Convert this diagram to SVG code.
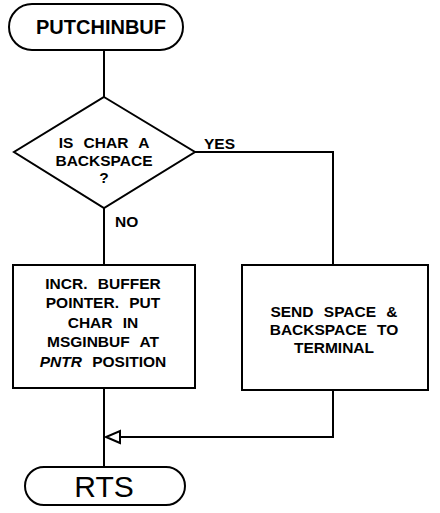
<svg xmlns="http://www.w3.org/2000/svg" width="440" height="513" viewBox="0 0 440 513">
<style>
.s{fill:#fff;stroke:#000;stroke-width:2}
.c{fill:none;stroke:#000;stroke-width:2}
.t{font-family:"Liberation Sans",Arial,sans-serif;font-weight:bold;font-size:15.5px;fill:#000;text-anchor:middle;word-spacing:6px}
</style>
<defs>
<marker id="ah" markerUnits="userSpaceOnUse" markerWidth="20" markerHeight="20" refX="16" refY="8" orient="auto">
<path d="M2,2 L16,8 L2,14 Z" fill="#fff" stroke="#000" stroke-width="2"/>
</marker>
</defs>
<rect width="440" height="513" fill="#fff"/>
<g id="connectors">
<path class="c" d="M104,50 V97"/>
<path class="c" d="M104,208 V265"/>
<path class="c" d="M195,152 H333 V265"/>
<path class="c" d="M104,388 V467"/>
<path class="c" d="M333,390 V437 H106" marker-end="url(#ah)"/>
<text class="t" x="204" y="149" style="text-anchor:start">YES</text>
<text class="t" x="115" y="227" style="text-anchor:start">NO</text>
</g>
<g id="start">
<rect class="s" x="9" y="4" width="174" height="46" rx="23"/>
<text class="t" x="101" y="34" style="font-size:20px">PUTCHINBUF</text>
</g>
<g id="decision">
<polygon class="s" points="104,97 195,152 104,208 14,152"/>
<text class="t" x="104" y="148">IS CHAR A</text>
<text class="t" x="104" y="166">BACKSPACE</text>
<text class="t" x="104" y="183">?</text>
</g>
<g id="incr">
<rect class="s" x="13" y="265" width="182" height="123"/>
<text class="t" x="103" y="288.5">INCR. BUFFER</text>
<text class="t" x="103" y="308">POINTER. PUT</text>
<text class="t" x="103" y="327.5">CHAR IN</text>
<text class="t" x="103" y="347">MSGINBUF AT</text>
<text class="t" x="103" y="366.5"><tspan font-style="italic">PNTR</tspan> POSITION</text>
</g>
<g id="send">
<rect class="s" x="242" y="265" width="186" height="125"/>
<text class="t" x="334" y="317">SEND SPACE &amp;</text>
<text class="t" x="334" y="335">BACKSPACE TO</text>
<text class="t" x="334" y="353">TERMINAL</text>
</g>
<g id="end">
<rect class="s" x="25" y="467" width="160" height="38" rx="19"/>
<text class="t" x="104" y="497" style="font-size:30px;font-weight:normal">RTS</text>
</g>
</svg>
